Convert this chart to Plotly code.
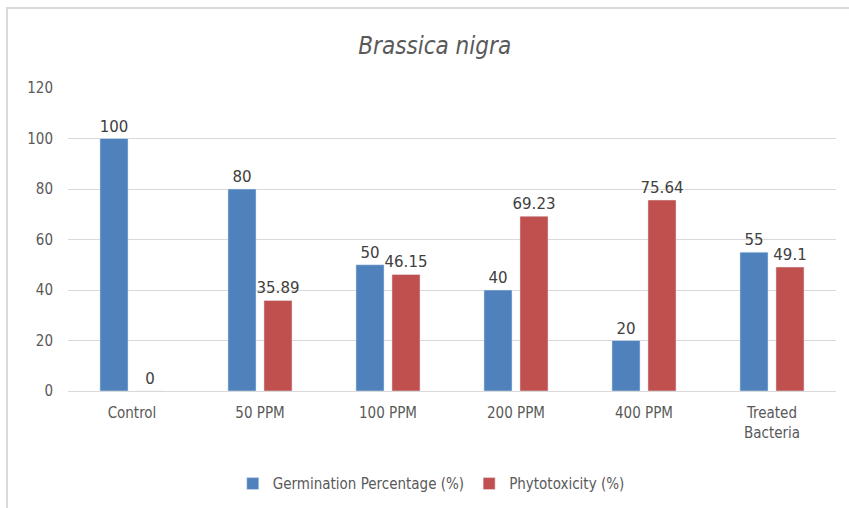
import plotly.graph_objects as go

categories = ["Control", "50 PPM", "100 PPM", "200 PPM", "400 PPM", "Treated<br>Bacteria"]
germination = [100, 80, 50, 40, 20, 55]
phytotoxicity = [0, 35.89, 46.15, 69.23, 75.64, 49.1]
germ_labels = ["100", "80", "50", "40", "20", "55"]
phyto_labels = ["0", "35.89", "46.15", "69.23", "75.64", "49.1"]
y_ticks = [0, 20, 40, 60, 80, 100, 120]

FONT = "Liberation Sans Narrow, DejaVu Sans Condensed, Arial Narrow, sans-serif"
LABEL_FONT = dict(size=15, color="#404040", family="DejaVu Sans, sans-serif")

fig = go.Figure()
fig.add_trace(go.Bar(
    x=categories, y=germination, name="Germination Percentage (%)",
    marker=dict(color="#4F81BD"),
    text=germ_labels, textposition="outside", cliponaxis=False,
    constraintext="none", textfont=LABEL_FONT,
))
fig.add_trace(go.Bar(
    x=categories, y=phytotoxicity, name="Phytotoxicity (%)",
    marker=dict(color="#C0504D"),
    text=phyto_labels, textposition="outside", cliponaxis=False,
    constraintext="none", textfont=LABEL_FONT,
))

fig.update_layout(
    width=849, height=508,
    margin=dict(l=68, r=13, t=88, b=117, autoexpand=False),
    paper_bgcolor="white", plot_bgcolor="white",
    barmode="group", bargap=0.4375, bargroupgap=0.22,
    title=dict(text="<i>Brassica nigra</i>", x=0.512, xanchor="center",
               y=0.911, yanchor="middle",
               font=dict(size=24, color="#595959", family=FONT)),
    font=dict(family=FONT, color="#595959", size=15),
    legend=dict(orientation="h", x=0.473, xanchor="center", y=-0.252, yanchor="top",
                font=dict(size=15, color="#595959", family=FONT),
                itemwidth=30, tracegroupgap=0),
    xaxis=dict(showline=True, linecolor="#D9D9D9", ticks="", tickfont=dict(size=15),
               showgrid=False, automargin=False, ticklabelstandoff=8),
    yaxis=dict(range=[0, 120], tickvals=y_ticks, showgrid=True, gridcolor="#D9D9D9",
               zeroline=False, showline=False, tickfont=dict(size=15), ticks="",
               automargin=False, ticklabelstandoff=14),
    shapes=[dict(type="rect", xref="paper", yref="paper",
                 x0=(7 - 68) / 768, x1=(880 - 68) / 768,
                 y0=(391 - 540) / 303, y1=(391 - 8) / 303,
                 line=dict(color="#D9D9D9", width=2), fillcolor="rgba(0,0,0,0)", layer="below")],
)

fig.write_html("out.html", config={"displayModeBar": False},
               post_script="document.body.style.margin='0';document.body.style.overflow='hidden';")
